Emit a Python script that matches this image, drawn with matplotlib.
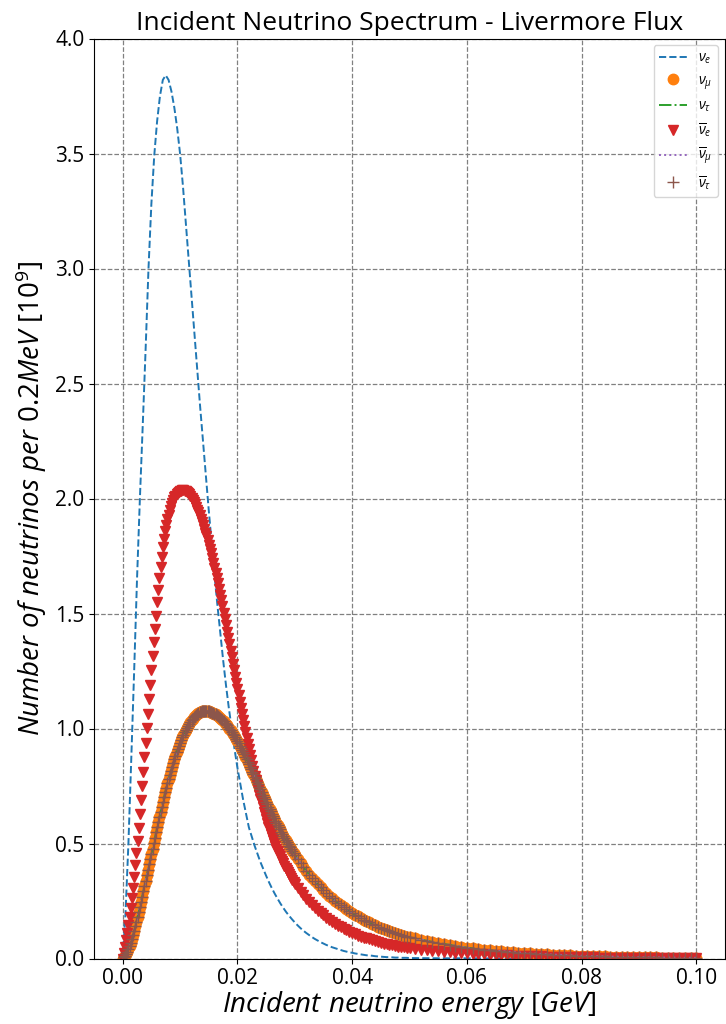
import numpy as np
import matplotlib
matplotlib.use("Agg")
import matplotlib.pyplot as plt

plt.rcParams["font.family"] = ["Open Sans", "DejaVu Sans"]
plt.rcParams["mathtext.fontset"] = "custom"
plt.rcParams["mathtext.rm"] = "Open Sans"
plt.rcParams["mathtext.it"] = "Open Sans:italic"
plt.rcParams["mathtext.bf"] = "Open Sans:bold"

# energy bins in GeV: 0.2 MeV up to 30 MeV, then coarser in the tail
energy_gev = np.concatenate([
    np.arange(151) * 0.0002,
    0.030 + np.arange(1, 41) * 0.0005,
    0.050 + np.arange(1, 51) * 0.001,
])
nue_energy_gev = np.concatenate([
    np.arange(101) * 0.0005,
    0.050 + np.arange(1, 11) * 0.005,
])

# electron neutrino flux [1e9 per 0.2 MeV]
flux_nue = [
    0.00, 0.20, 0.50, 0.87, 1.25, 1.65, 2.00, 2.32, 2.65, 3.00,
    3.28, 3.49, 3.64, 3.75, 3.82, 3.84, 3.82, 3.77, 3.70, 3.61,
    3.50, 3.36, 3.20, 3.04, 2.88, 2.72, 2.56, 2.40, 2.25, 2.10,
    1.95, 1.81, 1.67, 1.54, 1.42, 1.30, 1.19, 1.09, 1.00, 0.91,
    0.83, 0.76, 0.69, 0.63, 0.57, 0.53, 0.49, 0.455, 0.42, 0.39,
    0.36, 0.332, 0.306, 0.282, 0.26, 0.239, 0.22, 0.202, 0.186, 0.171,
    0.157, 0.144, 0.132, 0.121, 0.111, 0.102, 0.093, 0.085, 0.078, 0.071,
    0.065, 0.059, 0.054, 0.049, 0.045, 0.041, 0.037, 0.033, 0.030, 0.027,
    0.025, 0.022, 0.020, 0.018, 0.016, 0.014, 0.013, 0.012, 0.010, 0.009,
    0.008, 0.007, 0.006, 0.006, 0.005, 0.004, 0.004, 0.003, 0.003, 0.003,
    0.002,
    0.001, 0.001, 0.0, 0.0, 0.0, 0.0, 0.0, 0.0, 0.0, 0.0,
]

# electron antineutrino flux
flux_nuebar = [
    0.000, 0.024, 0.051, 0.080, 0.111, 0.145, 0.181, 0.221, 0.263, 0.307,
    0.355, 0.405, 0.457, 0.512, 0.569, 0.628, 0.688, 0.749, 0.811, 0.874,
    0.938, 1.002, 1.065, 1.128, 1.191, 1.253, 1.314, 1.375, 1.434, 1.491,
    1.548, 1.602, 1.654, 1.702, 1.747, 1.788, 1.825, 1.857, 1.885, 1.909,
    1.930, 1.950, 1.967, 1.982, 1.995, 2.005, 2.013, 2.020, 2.025, 2.029,
    2.032, 2.034, 2.035, 2.035, 2.034, 2.031, 2.028, 2.024, 2.018, 2.011,
    2.003, 1.994, 1.985, 1.974, 1.963, 1.952, 1.940, 1.927, 1.913, 1.899,
    1.884, 1.868, 1.852, 1.835, 1.818, 1.800, 1.781, 1.761, 1.741, 1.721,
    1.699, 1.677, 1.654, 1.631, 1.607, 1.582, 1.557, 1.531, 1.504, 1.477,
    1.449, 1.421, 1.394, 1.366, 1.338, 1.310, 1.282, 1.254, 1.226, 1.199,
    1.171, 1.144, 1.117, 1.090, 1.063, 1.036, 1.010, 0.984, 0.959, 0.934,
    0.910, 0.886, 0.862, 0.839, 0.817, 0.795, 0.774, 0.753, 0.733, 0.713,
    0.694, 0.675, 0.657, 0.639, 0.622, 0.605, 0.589, 0.573, 0.558, 0.543,
    0.529, 0.515, 0.502, 0.489, 0.477, 0.466, 0.455, 0.444, 0.434, 0.424,
    0.414, 0.404, 0.394, 0.385, 0.376, 0.367, 0.358, 0.349, 0.341, 0.333,
    0.325,
    0.307, 0.291, 0.275, 0.260, 0.246, 0.233, 0.220, 0.208, 0.197, 0.187,
    0.177, 0.168, 0.159, 0.151, 0.143, 0.136, 0.129, 0.122, 0.116, 0.110,
    0.105, 0.100, 0.095, 0.091, 0.087, 0.083, 0.079, 0.075, 0.072, 0.068,
    0.065, 0.062, 0.060, 0.057, 0.055, 0.052, 0.050, 0.048, 0.046, 0.044,
    0.041, 0.038, 0.036, 0.033, 0.031, 0.029, 0.027, 0.025, 0.024, 0.022,
    0.021, 0.019, 0.018, 0.017, 0.016, 0.015, 0.014, 0.013, 0.012, 0.011,
    0.010, 0.010, 0.009, 0.008, 0.008, 0.007, 0.007, 0.006, 0.006, 0.005,
    0.005, 0.005, 0.004, 0.004, 0.004, 0.003, 0.003, 0.003, 0.003, 0.003,
    0.002, 0.002, 0.002, 0.002, 0.002, 0.002, 0.002, 0.002, 0.002, 0.002,
]

# heavy-flavour flux (same for nu_mu, nu_tau and their antiparticles)
flux_nux = [
    0.000, 0.005, 0.011, 0.019, 0.029, 0.041, 0.054, 0.068, 0.084, 0.101,
    0.120, 0.140, 0.160, 0.181, 0.202, 0.224, 0.247, 0.269, 0.292, 0.315,
    0.339, 0.362, 0.385, 0.409, 0.432, 0.455, 0.478, 0.502, 0.525, 0.548,
    0.570, 0.593, 0.615, 0.637, 0.659, 0.680, 0.701, 0.722, 0.742, 0.761,
    0.780, 0.798, 0.816, 0.833, 0.850, 0.866, 0.882, 0.897, 0.911, 0.925,
    0.938, 0.950, 0.962, 0.973, 0.984, 0.994, 1.004, 1.013, 1.021, 1.029,
    1.036, 1.043, 1.049, 1.054, 1.059, 1.063, 1.067, 1.070, 1.073, 1.075,
    1.076, 1.077, 1.077, 1.076, 1.076, 1.075, 1.073, 1.071, 1.069, 1.067,
    1.064, 1.061, 1.058, 1.054, 1.050, 1.046, 1.041, 1.036, 1.031, 1.026,
    1.020, 1.014, 1.007, 1.000, 0.993, 0.986, 0.978, 0.970, 0.962, 0.953,
    0.944, 0.935, 0.926, 0.916, 0.907, 0.897, 0.887, 0.877, 0.866, 0.856,
    0.845, 0.834, 0.823, 0.812, 0.801, 0.790, 0.779, 0.768, 0.757, 0.746,
    0.735, 0.724, 0.713, 0.702, 0.692, 0.681, 0.671, 0.660, 0.650, 0.640,
    0.629, 0.619, 0.609, 0.599, 0.590, 0.580, 0.570, 0.561, 0.552, 0.543,
    0.534, 0.525, 0.516, 0.508, 0.499, 0.491, 0.483, 0.475, 0.467, 0.459,
    0.451,
    0.432, 0.414, 0.397, 0.381, 0.365, 0.350, 0.336, 0.322, 0.309, 0.296,
    0.284, 0.273, 0.262, 0.252, 0.242, 0.232, 0.223, 0.214, 0.206, 0.198,
    0.190, 0.183, 0.176, 0.169, 0.163, 0.157, 0.151, 0.145, 0.139, 0.134,
    0.129, 0.124, 0.119, 0.115, 0.111, 0.107, 0.103, 0.099, 0.095, 0.092,
    0.087, 0.082, 0.077, 0.072, 0.068, 0.063, 0.059, 0.055, 0.051, 0.047,
    0.044, 0.041, 0.039, 0.036, 0.034, 0.032, 0.030, 0.028, 0.026, 0.024,
    0.023, 0.021, 0.020, 0.018, 0.017, 0.016, 0.015, 0.014, 0.013, 0.012,
    0.011, 0.010, 0.010, 0.009, 0.008, 0.008, 0.007, 0.007, 0.006, 0.006,
    0.005, 0.005, 0.005, 0.004, 0.004, 0.004, 0.003, 0.003, 0.003, 0.003,
]

fig = plt.figure(figsize=(7.26, 10.24), dpi=100)
ax = fig.add_axes([94 / 726, 65.5 / 1024, 631 / 726, 920 / 1024])

ax.plot(nue_energy_gev, flux_nue, "--", color="C0", lw=1.4, label=r"$\nu_e$")
ax.plot(energy_gev, flux_nux, "o", color="C1", ms=7.5, label=r"$\nu_\mu$")
ax.plot(energy_gev, flux_nux, "-.", color="C2", lw=1.4, label=r"$\nu_\tau$")
ax.plot(energy_gev, flux_nuebar, "v", color="C3", ms=7.5, label=r"$\overline{\nu}_e$")
ax.plot(energy_gev, flux_nux, ":", color="C4", lw=1.4, label=r"$\overline{\nu}_\mu$")
ax.plot(energy_gev, flux_nux, "+", color="C5", ms=8, label=r"$\overline{\nu}_\tau$")

ax.set_ylim(0, 4.0)
ax.grid(True, color="gray", linestyle="--", linewidth=0.9)
ax.tick_params(labelsize=15)
ax.set_title("Incident Neutrino Spectrum - Livermore Flux", fontsize=19)
ax.set_xlabel(r"$Incident\ neutrino\ energy\ [GeV]$", fontsize=20, labelpad=0)
ax.set_ylabel(r"$Number\ of\ neutrinos\ per\ 0.2 MeV\ [10^9]$", fontsize=20)
ax.legend(loc="upper right", fontsize=10)

fig.savefig("out.png", dpi=100)
